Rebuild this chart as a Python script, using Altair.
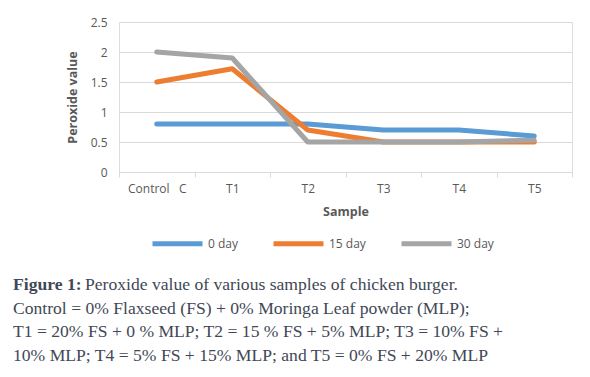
import altair as alt
import pandas as pd

samples = ["Control\u00a0\u00a0\u00a0C", "T1", "T2", "T3", "T4", "T5"]
series_names = ["0 day", "15 day", "30 day"]
day0 = [0.8, 0.8, 0.8, 0.7, 0.7, 0.6]
day15 = [1.5, 1.72, 0.7, 0.5, 0.5, 0.5]
day30 = [2.0, 1.9, 0.5, 0.5, 0.5, 0.53]
colors = ["#5b9bd5", "#ed7d31", "#a5a5a5"]

caption_bold = "Figure 1:"
caption_lines = [
    "Peroxide value of various samples of chicken burger.",
    "Control = 0% Flaxseed (FS) + 0% Moringa Leaf powder (MLP);",
    "T1 = 20% FS + 0 % MLP; T2 = 15 % FS + 5% MLP; T3 = 10% FS +",
    "10% MLP; T4 = 5% FS + 15% MLP; and T5 = 0% FS + 20% MLP",
]

rows = []
for name, vals in zip(series_names, [day0, day15, day30]):
    for s, v in zip(samples, vals):
        rows.append({"Sample": s, "value": v, "series": name})
df = pd.DataFrame(rows)

W, H = 453, 150
lines = alt.Chart(df).mark_line(strokeWidth=5, strokeCap="round", strokeJoin="round").encode(
    x=alt.X("Sample:N", sort=samples, scale=alt.Scale(paddingInner=0, paddingOuter=0),
            axis=alt.Axis(title="Sample", labelAngle=0, tickBand="extent", tickSize=5,
                          tickColor="#d9d9d9", domainColor="#d9d9d9", labelColor="#595959",
                          labelFont="Open Sans", labelFontSize=12, labelPadding=6,
                          titleFont="Open Sans", titleFontSize=12.5, titleColor="#595959",
                          titleFontWeight="bold", titlePadding=11, grid=False)),
    y=alt.Y("value:Q", scale=alt.Scale(domain=[0, 2.5]),
            axis=alt.Axis(title="Peroxide value", values=[0, 0.5, 1, 1.5, 2, 2.5], format="~g",
                          domain=False, ticks=False, gridColor="#d9d9d9", labelColor="#595959",
                          labelFont="Open Sans", labelFontSize=12, labelPadding=12,
                          titleFont="Open Sans", titleFontSize=12.5, titleColor="#595959",
                          titleFontWeight="bold", titlePadding=11)),
    color=alt.Color("series:N", sort=series_names,
                    scale=alt.Scale(domain=series_names, range=colors),
                    legend=alt.Legend(title=None, orient="none", legendX=31, legendY=194,
                                      direction="horizontal", symbolType="stroke",
                                      symbolSize=2500, symbolStrokeWidth=5,
                                      labelFont="Open Sans", labelFontSize=12,
                                      labelColor="#595959", columnPadding=25, labelOffset=3)),
)

FS = 17.6
cap_bold = alt.Chart(pd.DataFrame({"text": [caption_bold]})).mark_text(
    align="left", baseline="alphabetic", font="Liberation Serif", fontSize=FS,
    fontWeight="bold", color="#3f4856"
).encode(x=alt.value(-106), y=alt.value(268), text="text:N")

cap_rest = [
    alt.Chart(pd.DataFrame({"text": [t]})).mark_text(
        align="left", baseline="alphabetic", font="Liberation Serif", fontSize=FS,
        color="#3f4856"
    ).encode(x=alt.value(-34 if k == 0 else -106), y=alt.value(268 + 23.5 * k), text="text:N")
    for k, t in enumerate(caption_lines)
]

chart = alt.layer(lines, cap_bold, *cap_rest).properties(
    width=W, height=H,
    autosize=alt.AutoSizeParams(type="none"),
    padding={"left": 119, "top": 22, "right": 18, "bottom": 205},
).configure_view(stroke=None).configure(background="white")

chart.save("out.html", embed_options={"renderer": "svg", "actions": False})
